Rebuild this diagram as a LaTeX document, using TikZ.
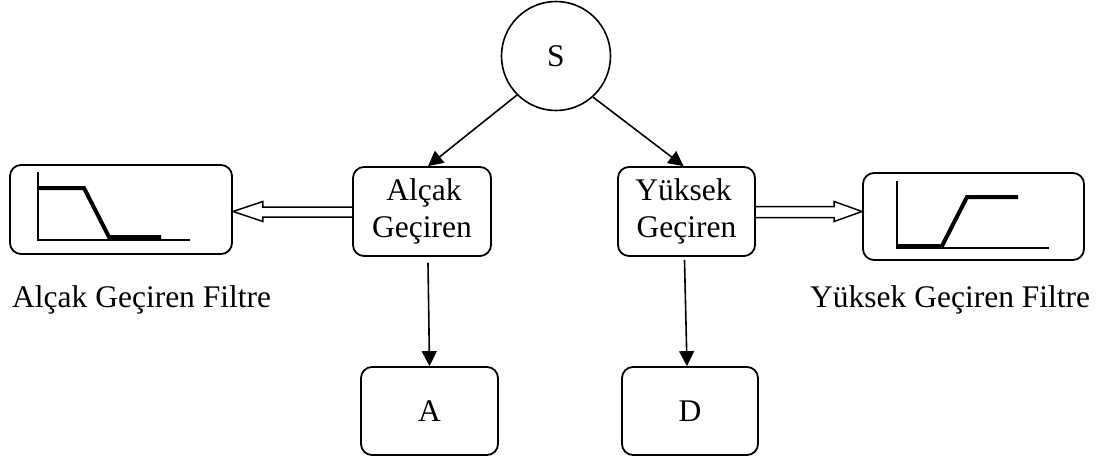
\documentclass[tikz,border=0pt]{standalone}
\usepackage{fontspec}
\setmainfont{Liberation Serif}
\usetikzlibrary{arrows.meta,calc}
\begin{document}
\begin{tikzpicture}[x=1pt,y=-1pt,
  every node/.style={font=\fontsize{31.5}{37}\selectfont},
  roundbox/.style={draw,line width=1.8pt,rounded corners=11pt,inner sep=0pt,align=center},
  flowarrow/.style={line width=1.6pt,-{Triangle[length=15pt,width=15pt]}},
  hollowarrow/.style={draw,line width=1.5pt,line join=miter},
  axisline/.style={line width=1.5pt},
  curveline/.style={line width=4pt,line join=miter},
  caption/.style={anchor=base west,inner sep=0pt}]
\useasboundingbox (0,0) rectangle (1109,461);

% source
\node[draw,circle,line width=1.6pt,minimum size=109pt,inner sep=0pt] (S) at (556,56) {S};

% filter stages
\node[roundbox,minimum width=138pt,minimum height=89pt] (lp) at (422,211.5) {\hspace*{4pt}Alçak\\Geçiren};
\node[roundbox,minimum width=137pt,minimum height=89pt] (hp) at (686.5,211.5) {Yüksek\hspace*{6pt}\\Geçiren};

% outputs
\node[roundbox,minimum width=137pt,minimum height=88pt] (A) at (429.5,411) {A};
\node[roundbox,minimum width=136pt,minimum height=88pt] (D) at (690,411) {D};

% response plots
\node[roundbox,minimum width=222pt,minimum height=89pt] (lg) at (121,209.5) {};
\node[roundbox,minimum width=221pt,minimum height=87pt] (hg) at (973.5,216.5) {};

\draw[axisline] (38,172) -- (38,241) (38,240) -- (190,240);
\draw[curveline] (38,188) -- (84,188) -- (109,237) -- (161,237);
\draw[axisline] (897,181) -- (897,249) (897,248) -- (1049,248);
\draw[curveline] (897,246) -- (942,246) -- (967,197) -- (1018,197);

% captions
\node[caption] (lcap) at (12,307) {Alçak Geçiren Filtre};
\node[caption] (hcap) at (810,307) {Yüksek Geçiren Filtre};

% connectors
\draw[flowarrow] (S.225) -- ($(lp.north)+(6,0)$);
\draw[flowarrow] (S.-48) -- ($(hp.north)+(-3,0)$);
\draw[flowarrow] ($(lp.south)+(6,6)$) -- (A.north);
\draw[flowarrow] ($(hp.south)+(-2,3)$) -- ($(D.north)+(-3,0)$);

% hollow arrows to the plots
\coordinate (ltip) at (lg.east |- lp.west);
\coordinate (rtip) at (hg.west |- hp.east);
\draw[hollowarrow] ($(lp.west)+(0,-4.5)$) -- ($(ltip)+(30,-4.5)$) -- ($(ltip)+(30,-10)$)
  -- (ltip) -- ($(ltip)+(30,10)$) -- ($(ltip)+(30,5.5)$) -- ($(lp.west)+(0,5.5)$);
\draw[hollowarrow] ($(hp.east)+(0,-5)$) -- ($(rtip)+(-28,-5)$) -- ($(rtip)+(-28,-10)$)
  -- (rtip) -- ($(rtip)+(-28,10)$) -- ($(rtip)+(-28,6)$) -- ($(hp.east)+(0,6)$);
\end{tikzpicture}
\end{document}
